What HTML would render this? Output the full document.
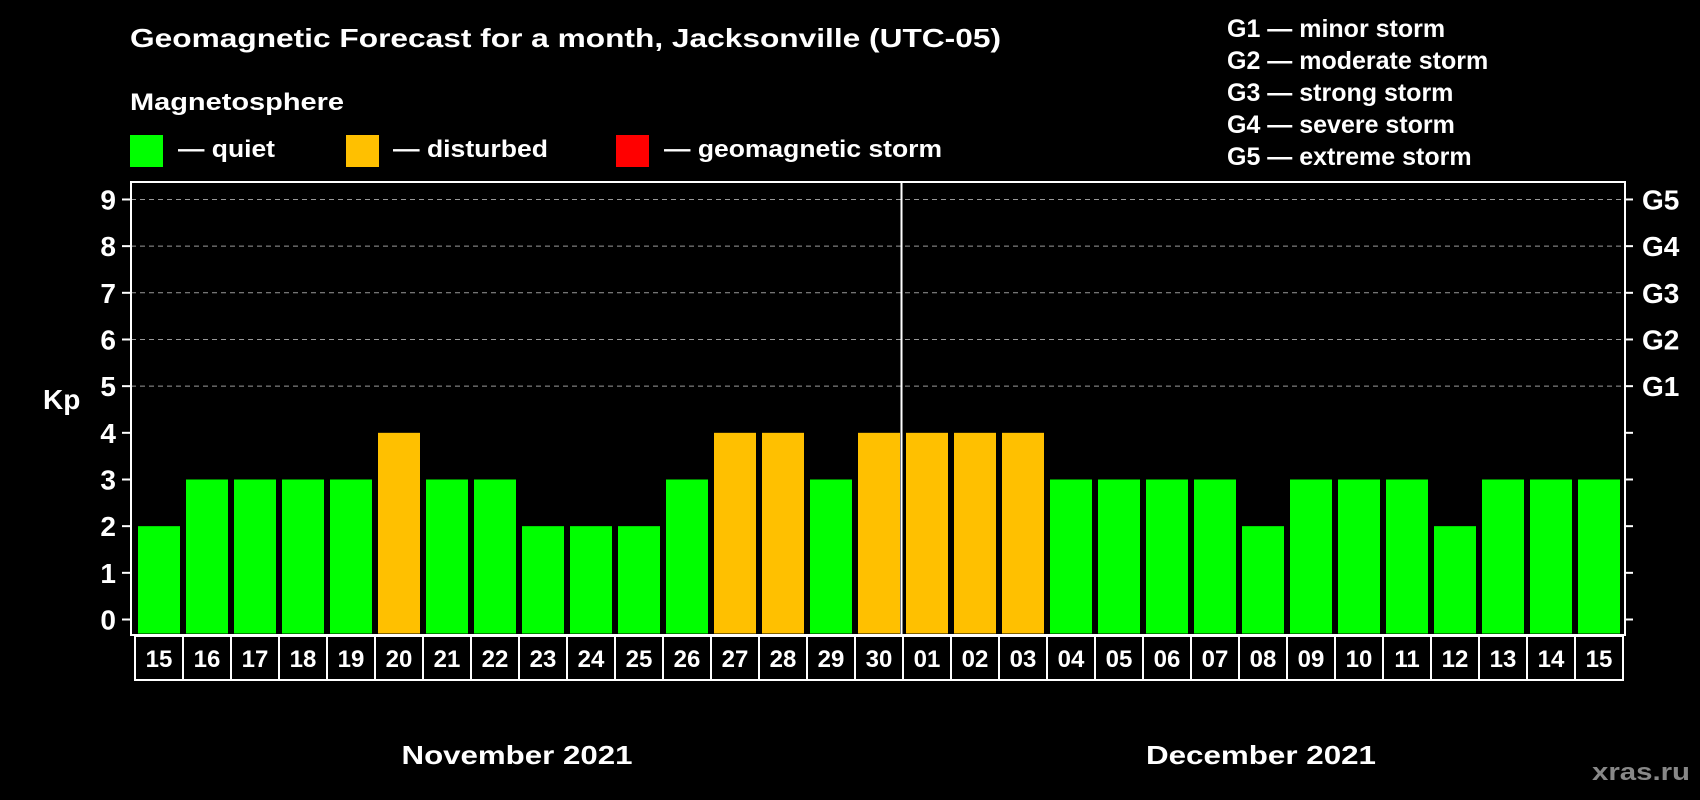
<!DOCTYPE html>
<html><head><meta charset="utf-8"><style>
html,body{margin:0;padding:0;background:#000;}
svg{display:block;font-family:"Liberation Sans",Arial,sans-serif;font-weight:bold;}
</style></head><body>
<svg id="chart" width="1700" height="800" viewBox="0 0 1700 800">
<rect x="0" y="0" width="1700" height="800" fill="#000"/>
<text x="130" y="47" fill="#fff" font-size="26" textLength="871" lengthAdjust="spacingAndGlyphs">Geomagnetic Forecast for a month, Jacksonville (UTC-05)</text>
<text x="130" y="110" fill="#fff" font-size="24" textLength="214" lengthAdjust="spacingAndGlyphs">Magnetosphere</text>
<g><rect x="130" y="135" width="33" height="32" fill="#00ff00"/><text x="178" y="157" fill="#fff" font-size="24" textLength="97" lengthAdjust="spacingAndGlyphs">— quiet</text></g>
<g><rect x="346" y="135" width="33" height="32" fill="#ffc000"/><text x="393" y="157" fill="#fff" font-size="24" textLength="155" lengthAdjust="spacingAndGlyphs">— disturbed</text></g>
<g><rect x="616" y="135" width="33" height="32" fill="#ff0000"/><text x="664" y="157" fill="#fff" font-size="24" textLength="278" lengthAdjust="spacingAndGlyphs">— geomagnetic storm</text></g>
<g fill="#fff" font-size="25">
<text x="1227" y="37">G1 — minor storm</text>
<text x="1227" y="69">G2 — moderate storm</text>
<text x="1227" y="101">G3 — strong storm</text>
<text x="1227" y="133">G4 — severe storm</text>
<text x="1227" y="165">G5 — extreme storm</text>
</g>
<text x="43" y="409" fill="#fff" font-size="28">Kp</text>
<g id="grid"></g><g id="bars"></g><g id="axes"></g>
<text x="517" y="764" fill="#fff" font-size="26" text-anchor="middle" textLength="231" lengthAdjust="spacingAndGlyphs">November 2021</text>
<text x="1261" y="764" fill="#fff" font-size="26" text-anchor="middle" textLength="230" lengthAdjust="spacingAndGlyphs">December 2021</text>
<text x="1690" y="780" fill="#888" font-size="24" text-anchor="end" textLength="98" lengthAdjust="spacingAndGlyphs">xras.ru</text>
</svg>
<script>
const days = ["15","16","17","18","19","20","21","22","23","24","25","26","27","28","29","30","01","02","03","04","05","06","07","08","09","10","11","12","13","14","15"];
const kpValues = [2,3,3,3,3,4,3,3,2,2,2,3,4,4,3,4,4,4,4,3,3,3,3,2,3,3,3,2,3,3,3];
const yTicks = [0,1,2,3,4,5,6,7,8,9];
const gLabels = ["","","","","","G1","G2","G3","G4","G5"];
const NS="http://www.w3.org/2000/svg";
const L=131,R=1625,T=182,B=635,y0=619.5,unit=46.67,x0=135,step=48;
const y=v=>y0-v*unit;
const x=i=>x0+i*step;
function mk(tag,attrs,parent){const e=document.createElementNS(NS,tag);for(const k in attrs)e.setAttribute(k,attrs[k]);parent.appendChild(e);return e;}
const grid=document.getElementById('grid'),bars=document.getElementById('bars'),axes=document.getElementById('axes');
yTicks.forEach((v,i)=>{
  if(v>=5){const g=mk('line',{x1:L,x2:R,y1:y(v),y2:y(v),stroke:'#999','stroke-dasharray':'5,4','stroke-width':1},grid);
  
  }
  mk('line',{x1:L-9,x2:L,y1:y(v),y2:y(v),stroke:'#fff','stroke-width':2},axes);
  mk('line',{x1:R,x2:R+8,y1:y(v),y2:y(v),stroke:'#fff','stroke-width':2},axes);
  const t=mk('text',{x:116,y:y(v)+10,fill:'#fff','font-size':28,'text-anchor':'end'},axes);t.textContent=v;
  
  
  if(gLabels[i]){const g=mk('text',{x:1642,y:y(v)+10,fill:'#fff','font-size':28},axes);g.textContent=gLabels[i];
  
  }
});
kpValues.forEach((v,i)=>{
  const c=v>=5?'#ff0000':(v>=4?'#ffc000':'#00ff00');
  const b=mk('rect',{x:x(i)+3,y:y(v),width:42,height:y(0)-y(v)+14,fill:c},bars);
  
  
  const cell=mk('rect',{x:x(i),y:636,width:step,height:44,fill:'none',stroke:'#fff','stroke-width':2},axes);
  
  
  const t=mk('text',{x:x(i)+step/2,y:667,fill:'#fff','font-size':24,'text-anchor':'middle'},axes);t.textContent=days[i];
  
  
});
const f=mk('rect',{x:L,y:T,width:R-L,height:B-T,fill:'none',stroke:'#fff','stroke-width':2},axes);


const d=mk('line',{x1:x(16)-1.5,x2:x(16)-1.5,y1:T,y2:B,stroke:'#fff','stroke-width':2},axes);


</script>
</body></html>
